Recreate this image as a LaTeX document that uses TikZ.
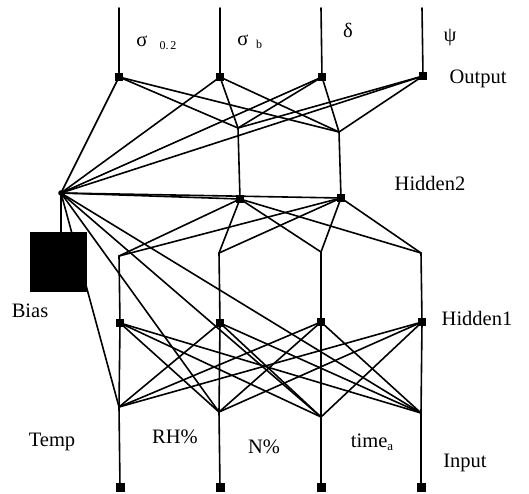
\documentclass[tikz,border=0pt]{standalone}
\usepackage{fontspec}
\setmainfont{Liberation Serif}
\begin{document}
\begin{tikzpicture}[x=1pt,y=-1pt,
  wire/.style={line width=1.6pt, line cap=round, line join=round},
  sq/.style={fill=black, minimum size=8pt, inner sep=0pt, outer sep=0pt},
  lbl/.style={font=\fontsize{20.5}{22}\selectfont, inner sep=0pt},
  sublbl/.style={font=\fontsize{12}{12}\selectfont, inner sep=0pt}]
\useasboundingbox (0,0) rectangle (529,494);

% output layer
\node[sq] (O1) at (119,77) {};
\node[sq] (O2) at (220,77) {};
\node[sq] (O3) at (322,77) {};
\node[sq] (O4) at (423,76) {};
\coordinate (T1) at (119,8);
\coordinate (T2) at (220,8);
\coordinate (T3) at (321,8);
\coordinate (T4) at (422,8);

% hidden2
\coordinate (J1) at (238,128);
\coordinate (J2) at (339,132);
\node[sq] (H2a) at (240,199) {};
\node[sq] (H2b) at (341,198) {};

% bias
\coordinate (B) at (61,193);
\node[fill=black, minimum width=57pt, minimum height=60pt, inner sep=0pt] (box) at (58.5,262) {};
\coordinate (BT) at (61,232);

% hidden1
\coordinate (K1) at (119,256);
\coordinate (K2) at (219,253);
\coordinate (K3) at (321,252);
\coordinate (K4) at (421,253);
\node[sq] (H1) at (120,323) {};
\node[sq] (H2) at (220,323) {};
\node[sq] (H3) at (321,322) {};
\node[sq] (H4) at (422,322) {};

% input
\coordinate (I1) at (119,407);
\coordinate (I2) at (219,412);
\coordinate (I3) at (321,417);
\coordinate (I4) at (421,413);
\node[sq, minimum size=9pt] (N1) at (120,487) {};
\node[sq, minimum size=9pt] (N2) at (220,487) {};
\node[sq, minimum size=9pt] (N3) at (321,487) {};
\node[sq, minimum size=9pt] (N4) at (421,487) {};

% wires
\foreach \i in {1,...,4} {
  \draw[wire] (T\i) -- (O\i.center);
  \draw[wire] (O\i.center) -- (J1);
  \draw[wire] (O\i.center) -- (J2);
  \draw[wire] (O\i.center) -- (B);
  \draw[wire] (H2a.center) -- (K\i);
  \draw[wire] (H2b.center) -- (K\i);
  \draw[wire] (K\i) -- (H\i.center);
  \draw[wire] (B) -- (I\i);
  \draw[wire] (I\i) -- (N\i.center);
  \foreach \j in {1,...,4} {
    \draw[wire] (H\i.center) -- (I\j);
  }
}
\draw[wire] (J1) -- (H2a.center);
\draw[wire] (J2) -- (H2b.center);
\draw[wire] (B) -- (H2a.center);
\draw[wire] (B) -- (H2b.center);
\draw[wire] (B) -- (BT);
\fill (B) circle (2.8pt);

% labels
\node[lbl] (s1) at (142,41) {σ};
\node[sublbl] (s1s) at (168,46) {0.\,2};
\node[lbl] (s2) at (243,40) {σ};
\node[sublbl] (s2s) at (259,44) {b};
\node[lbl] (s3) at (348,30) {δ};
\node[lbl] (s4) at (450,38) {ψ};
\node[lbl] (lout) at (478,79) {Output};
\node[lbl] (lh2) at (430,183) {Hidden2};
\node[lbl] (lh1) at (477,318) {Hidden1};
\node[lbl] (lbias) at (30,311) {Bias};
\node[lbl] (ltemp) at (52,442) {Temp};
\node[lbl] (lrh) at (175,437) {RH\%};
\node[lbl] (ln) at (264,447) {N\%};
\node[lbl] (ltime) at (372,442) {time\raisebox{-3pt}{\fontsize{13}{13}\selectfont a}};
\node[lbl] (lin) at (465,463) {Input};
\end{tikzpicture}
\end{document}
